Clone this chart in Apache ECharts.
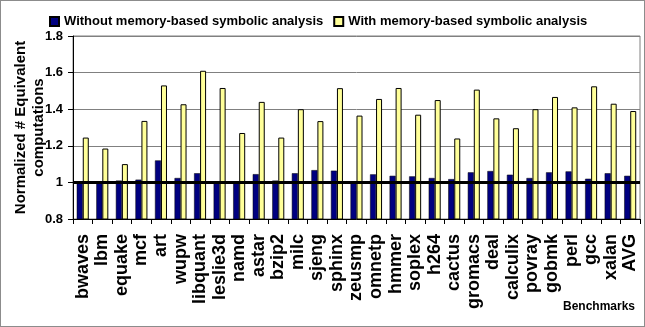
<!DOCTYPE html>
<html>
<head>
<meta charset="utf-8">
<script src="https://cdn.jsdelivr.net/npm/echarts@6/dist/echarts.min.js"></script>
<style>
  html, body { margin: 0; padding: 0; background: #fff; }
  #chart { width: 645px; height: 327px; box-sizing: border-box; border: 1px solid #8c8c8c; }
</style>
</head>
<body>
<div id="chart"></div>
<script>
// benchmark names along the x axis
const categories = ['bwaves', 'lbm', 'equake', 'mcf', 'art', 'wupw', 'libquant', 'leslie3d', 'namd', 'astar',
  'bzip2', 'milc', 'sjeng', 'sphinx', 'zeusmp', 'omnetp', 'hmmer', 'soplex', 'h264', 'cactus',
  'gromacs', 'deal', 'calculix', 'povray', 'gobmk', 'perl', 'gcc', 'xalan', 'AVG'];
// without memory-based symbolic analysis (navy)
const withoutValues = [1.0, 1.005, 1.01, 1.015, 1.12, 1.024, 1.05, 0.998, 1.0, 1.045,
  1.01, 1.05, 1.067, 1.064, 1.0, 1.044, 1.036, 1.033, 1.024, 1.018,
  1.055, 1.062, 1.042, 1.024, 1.055, 1.06, 1.02, 1.05, 1.036];
// with memory-based symbolic analysis (yellow)
const withValues = [1.245, 1.185, 1.10, 1.336, 1.53, 1.427, 1.61, 1.516, 1.27, 1.44,
  1.245, 1.40, 1.335, 1.515, 1.365, 1.456, 1.516, 1.37, 1.45, 1.24,
  1.507, 1.35, 1.296, 1.40, 1.467, 1.41, 1.525, 1.43, 1.39];
const yTicks = [0.8, 1, 1.2, 1.4, 1.6, 1.8];

const font = 'Arial, "Liberation Sans", sans-serif';
const chart = echarts.init(document.getElementById('chart'));
chart.setOption({
  animation: false,
  textStyle: { fontFamily: font },
  legend: {
    left: 43,
    top: 9,
    itemWidth: 9,
    itemHeight: 9,
    itemGap: 10,
    textStyle: { fontFamily: font, fontSize: 13, fontWeight: 'bold', color: '#000' },
    data: [
      { name: 'Without memory-based symbolic analysis', icon: 'rect' },
      { name: 'With memory-based symbolic analysis', icon: 'rect' }
    ]
  },
  grid: {
    left: 72,
    right: 4,
    top: 35,
    bottom: 107,
    outerBoundsMode: 'none',
    containLabel: false,
    show: true,
    borderColor: '#808080',
    borderWidth: 1
  },
  xAxis: {
    type: 'category',
    data: categories,
    axisLine: { lineStyle: { color: '#000', width: 1 } },
    axisTick: { show: true, length: 5, lineStyle: { color: '#000' } },
    axisLabel: {
      rotate: 90,
      interval: 0,
      margin: 15,
      fontFamily: font,
      fontSize: 18,
      fontWeight: 'bold',
      color: '#000'
    }
  },
  yAxis: {
    type: 'value',
    min: yTicks[0],
    max: yTicks[yTicks.length - 1],
    interval: 0.2,
    name: 'Normalized # Equivalent\ncomputations',
    nameLocation: 'middle',
    nameRotate: 90,
    nameGap: 25,
    nameMoveOverlap: false,
    nameTextStyle: { fontFamily: font, fontSize: 15, fontWeight: 'bold', color: '#000', lineHeight: 18 },
    axisLine: { show: true, lineStyle: { color: '#000', width: 1 } },
    axisTick: { show: true, length: 5, lineStyle: { color: '#000' } },
    axisLabel: {
      margin: 10,
      fontFamily: font,
      fontSize: 13,
      fontWeight: 'bold',
      color: '#000',
      formatter: v => (Math.abs(v - 1) < 1e-9 ? '1' : v.toFixed(1))
    },
    splitLine: { show: true, lineStyle: { color: '#808080', width: 1 } }
  },
  series: [
    {
      name: 'Without memory-based symbolic analysis',
      type: 'bar',
      data: withoutValues,
      barWidth: 6,
      barGap: '0%',
      itemStyle: { color: '#000080', borderColor: '#000', borderWidth: 0.5 },
      markLine: {
        silent: true,
        symbol: 'none',
        label: { show: false },
        lineStyle: { color: '#000', width: 3, type: 'solid' },
        data: [{ yAxis: 1 }],
        z: 10
      }
    },
    {
      name: 'With memory-based symbolic analysis',
      type: 'bar',
      data: withValues,
      barWidth: 6,
      barGap: '0%',
      itemStyle: { color: '#ffff99', borderColor: '#000', borderWidth: 1 }
    }
  ],
  graphic: [
    {
      type: 'text',
      right: 9,
      top: 300,
      style: { text: 'Benchmarks', font: 'bold 12px ' + font, fill: '#000' }
    }
  ]
});
</script>
</body>
</html>
